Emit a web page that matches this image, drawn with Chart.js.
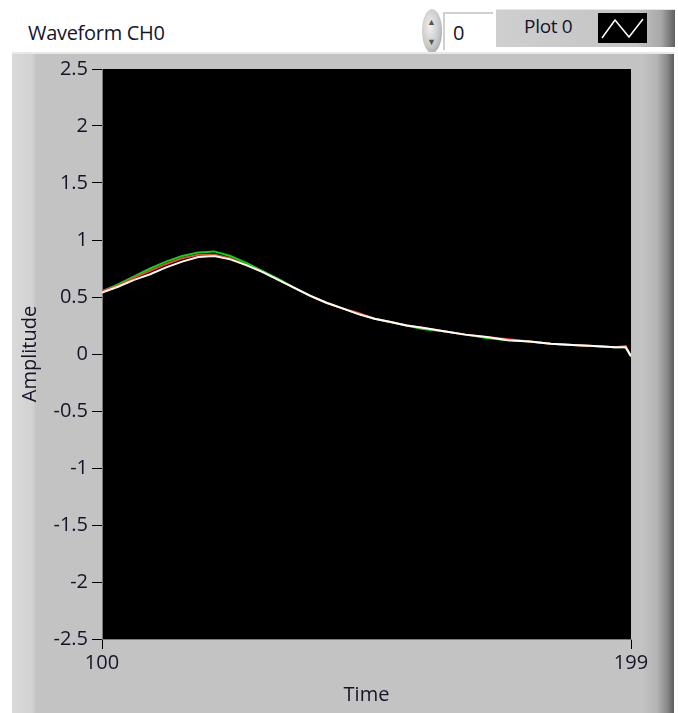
<!DOCTYPE html>
<html>
<head>
<meta charset="utf-8">
<script src="https://cdn.jsdelivr.net/npm/chart.js@4.4.1/dist/chart.umd.min.js"></script>
<style>
    body { margin: 0; background: #ffffff; width: 678px; height: 713px; position: relative; overflow: hidden; font-family: "Open Sans", sans-serif; }
    .title { position: absolute; left: 28px; top: 19px; font-size: 20px; color: #15152a; letter-spacing: -0.3px; }
    .spin { position: absolute; left: 422px; top: 9px; width: 20px; height: 44px; border-radius: 50%;
            background: radial-gradient(ellipse at 40% 40%, #f0f0f0 0%, #c8c8c8 55%, #8a8a8a 100%); }
    .spin span { position: absolute; left: 5px; font-size: 9px; color: #555; }
    .numbox { position: absolute; left: 443px; top: 12px; width: 50px; height: 38px; background: #ffffff;
              border-top: 2px solid #d0d0d0; border-left: 2px solid #d0d0d0; box-sizing: border-box; }
    .numbox span { position: absolute; left: 8px; top: 5px; font-size: 20px; color: #15152a; }
    .legend { position: absolute; left: 496px; top: 9px; width: 179px; height: 38px;
              background: linear-gradient(to right, #cfcfcf 0px, #c4c4c4 140px, #a8a8a8 165px, #606060 179px);
              border-top: 1px solid #e6e6e6; box-sizing: border-box; }
    .legend .lbl { position: absolute; left: 28px; top: 3px; font-size: 19px; color: #15152a; letter-spacing: -0.3px; }
    .legend svg { position: absolute; left: 102px; top: 3px; }
    .panel { position: absolute; left: 12px; top: 52px; width: 662px; height: 661px;
             background: linear-gradient(to right, #dadada 0px, #d2d2d2 20px, #c3c3c3 24px, #c3c3c3 630px, #b4b4b4 645px, #8a8a8a 655px, #5c5c5c 662px);
             border-top: 2px solid #e8e8e8; box-sizing: border-box; }
    .chartBox { position: absolute; left: 12px; top: 52px; width: 662px; height: 661px; }
</style>
</head>
<body>
<div class="title">Waveform CH0</div>
<div class="spin"><span style="top:6px">&#9650;</span><span style="top:26px">&#9660;</span></div>
<div class="numbox"><span>0</span></div>
<div class="legend">
    <span class="lbl">Plot 0</span>
    <svg width="49" height="30"><rect x="0" y="0" width="49" height="30" fill="#000"/><polyline points="4,25 17,7 31,24 45,6" fill="none" stroke="#fff" stroke-width="1.5"/></svg>
</div>
<div class="panel"></div>
<div class="chartBox"><canvas id="waveChart" width="662" height="661"></canvas></div>
<script>
var timeValues = [100, 103, 106, 109, 112, 115, 118, 121, 124, 127, 130, 133, 136, 139, 142, 145, 148, 151, 154, 157, 160, 164, 168, 172, 176, 180, 184, 188, 192, 196, 198, 199];
var whiteValues = [0.54, 0.59, 0.65, 0.70, 0.76, 0.81, 0.85, 0.86, 0.83, 0.78, 0.72, 0.65, 0.58, 0.51, 0.45, 0.40, 0.35, 0.31, 0.28, 0.25, 0.23, 0.20, 0.17, 0.15, 0.12, 0.11, 0.09, 0.08, 0.07, 0.06, 0.06, -0.02];
var redValues = [0.55, 0.60, 0.67, 0.73, 0.79, 0.84, 0.87, 0.87, 0.84, 0.78, 0.72, 0.65, 0.58, 0.51, 0.45, 0.40, 0.36, 0.31, 0.28, 0.25, 0.23, 0.20, 0.17, 0.15, 0.13, 0.11, 0.09, 0.08, 0.07, 0.06, 0.07, -0.02];
var greenValues = [0.55, 0.61, 0.68, 0.75, 0.81, 0.86, 0.89, 0.90, 0.86, 0.80, 0.73, 0.66, 0.58, 0.51, 0.45, 0.40, 0.35, 0.31, 0.28, 0.25, 0.22, 0.20, 0.17, 0.14, 0.12, 0.11, 0.09, 0.08, 0.07, 0.06, 0.06, -0.02];
var xTickValues = [100, 199];
var yMin = -2.5;
var yMax = 2.5;
var yStep = 0.5;

function toPoints(values) {
    var pts = [];
    for (var i = 0; i < timeValues.length; i++) {
        pts.push({ x: timeValues[i], y: values[i] });
    }
    return pts;
}

// black plot area like the LabVIEW graph
var plotBackground = {
    id: 'plotBackground',
    beforeDraw: function(chart) {
        var a = chart.chartArea;
        var ctx = chart.ctx;
        ctx.save();
        ctx.fillStyle = '#000000';
        ctx.fillRect(a.left, a.top, a.right - a.left, a.bottom - a.top);
        ctx.restore();
    }
};

var textColor = '#15152a';
var axisFont = { family: 'Open Sans', size: 20 };

new Chart(document.getElementById('waveChart').getContext('2d'), {
    type: 'line',
    data: {
        datasets: [
            { label: 'white', data: toPoints(whiteValues), borderColor: '#ffffff', borderWidth: 2, pointRadius: 0, tension: 0 },
            { label: 'red', data: toPoints(redValues), borderColor: '#ff3a3a', borderWidth: 2, pointRadius: 0, tension: 0 },
            { label: 'green', data: toPoints(greenValues), borderColor: '#00dd00', borderWidth: 2, pointRadius: 0, tension: 0 }
        ]
    },
    options: {
        responsive: false,
        animation: false,
        layout: { padding: { left: 0, top: 17, right: 43, bottom: 0 } },
        plugins: { legend: { display: false }, tooltip: { enabled: false } },
        scales: {
            x: {
                type: 'linear',
                min: 100,
                max: 199,
                afterBuildTicks: function(scale) {
                    scale.ticks = xTickValues.map(function(v) { return { value: v }; });
                },
                afterFit: function(scale) { scale.height = 74; },
                ticks: { color: textColor, font: axisFont, padding: 2, maxRotation: 0, autoSkip: false },
                grid: { drawOnChartArea: false, tickLength: 10, color: '#000000', tickWidth: 1 },
                border: { color: '#7a7a7a', width: 1 },
                title: { display: true, text: 'Time', color: textColor, font: axisFont, padding: { top: 0, bottom: 6 } }
            },
            y: {
                min: yMin,
                max: yMax,
                afterFit: function(scale) { scale.width = 90; },
                ticks: {
                    stepSize: yStep,
                    color: textColor,
                    font: axisFont,
                    padding: 4,
                    callback: function(value) { return String(value); }
                },
                grid: { drawOnChartArea: false, tickLength: 10, color: '#000000', tickWidth: 1 },
                border: { color: '#7a7a7a', width: 1 },
                title: { display: true, text: 'Amplitude', color: textColor, font: axisFont, padding: { top: 6, bottom: 0 } }
            }
        }
    },
    plugins: [plotBackground]
});
</script>
</body>
</html>
